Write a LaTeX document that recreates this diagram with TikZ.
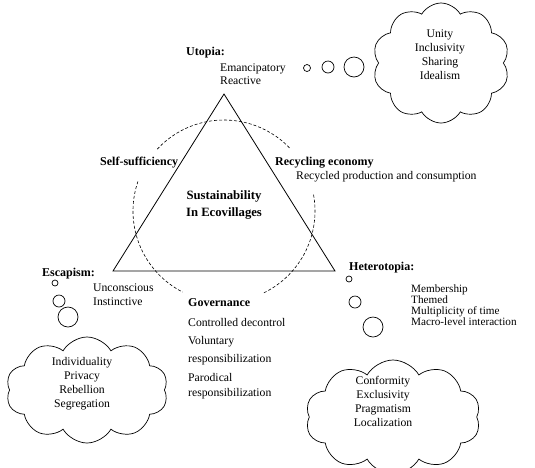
\documentclass[tikz,border=0pt]{standalone}
\usepackage{fontspec}
\setmainfont{Liberation Serif}
\usetikzlibrary{shapes.symbols}
\begin{document}
\begin{tikzpicture}[x=1pt,y=-1pt,
  txt/.style={inner sep=0pt, font=\fontsize{11.7}{13}\selectfont, align=left},
  hd/.style={inner sep=0pt, font=\fontsize{12}{14}\selectfont\bfseries},
  bubble/.style={circle, draw, inner sep=0pt, line width=0.7pt},
  thought/.style={cloud, draw, cloud puffs=10, cloud puff arc=120, cloud ignores aspect, inner sep=0pt, line width=0.7pt},
  ctext/.style={inner sep=0pt, font=\fontsize{11.7}{14}\selectfont, align=center}
  ]
\useasboundingbox (0,0) rectangle (535,467);
% triangle
\coordinate (A) at (224,94);
\coordinate (B) at (113,271);
\coordinate (C) at (335,271);
\draw[line width=0.8pt] (A) -- (B) -- (C) -- cycle;
% dashed circle arcs
\coordinate (O) at (224,211);
\draw[dash pattern=on 3pt off 2pt, line width=0.6pt] ([shift={(44:91pt)}]O) arc[start angle=44, end angle=138, radius=91pt];
\draw[dash pattern=on 3pt off 2pt, line width=0.6pt] ([shift={(161:91pt)}]O) arc[start angle=161, end angle=243, radius=91pt];
\draw[dash pattern=on 3pt off 2pt, line width=0.6pt] ([shift={(-64:91pt)}]O) arc[start angle=-64, end angle=11, radius=91pt];
% centre
\node[inner sep=0pt, font=\fontsize{12.7}{17}\selectfont\bfseries, align=center] (centre) at (224,205) {Sustainability\\In Ecovillages};
% Utopia
\node[hd, anchor=west] (utopia) at (186,53) {Utopia:};
\node[txt, anchor=north west] (utopiat) at (220,63.5) {Emancipatory\\Reactive};
\node[bubble, minimum size=7pt] (ub1) at (307,68) {};
\node[bubble, minimum size=12pt] (ub2) at (328,67) {};
\node[bubble, minimum size=20pt] (ub3) at (354,67) {};
\node[thought, minimum width=137pt, minimum height=120pt] (ucloud) at (441,63) {};
\node[ctext] (ucloudt) at (440,55) {Unity\\Inclusivity\\Sharing\\Idealism};
% sides
\node[hd, anchor=west] (self) at (100,163) {Self-sufficiency};
\node[hd, anchor=west] (recyc) at (275,163) {Recycling economy};
\node[txt, anchor=west] (recyct) at (296,177) {Recycled production and consumption};
% Escapism
\node[hd, anchor=west] (esc) at (42,274) {Escapism:};
\node[txt, anchor=north west, font=\fontsize{11.7}{14}\selectfont] (esct) at (93,283.5) {Unconscious\\Instinctive};
\node[bubble, minimum size=6pt] (eb1) at (55,283) {};
\node[bubble, minimum size=12pt] (eb2) at (59,301) {};
\node[bubble, minimum size=20pt] (eb3) at (68,317) {};
\node[thought, minimum width=162pt, minimum height=106pt] (ecloud) at (87,390) {};
\node[ctext] (ecloudt) at (82,384) {Individuality\\Privacy\\Rebellion\\Segregation};
% Governance
\node[hd, anchor=west] (gov) at (188,303) {Governance};
\node[txt, anchor=north west, font=\fontsize{11.7}{15}\selectfont] (govt) at (188,318.5) {Controlled decontrol\\[3pt]Voluntary\\[3pt]responsibilization\\[4pt]Parodical\\responsibilization};
% Heterotopia
\node[hd, anchor=west] (het) at (349,268) {Heterotopia:};
\node[txt, anchor=north west, font=\fontsize{11.2}{11}\selectfont] (hett) at (411,284.5) {Membership\\Themed\\Multiplicity of time\\Macro-level interaction};
\node[bubble, minimum size=6pt] (hb1) at (349,279) {};
\node[bubble, minimum size=12pt] (hb2) at (355,302) {};
\node[bubble, minimum size=20pt] (hb3) at (373,327) {};
\node[thought, minimum width=175pt, minimum height=114pt] (hcloud) at (393,417) {};
\node[ctext] (hcloudt) at (383,401) {Conformity\\Exclusivity\\Pragmatism\\Localization};
\end{tikzpicture}
\end{document}
